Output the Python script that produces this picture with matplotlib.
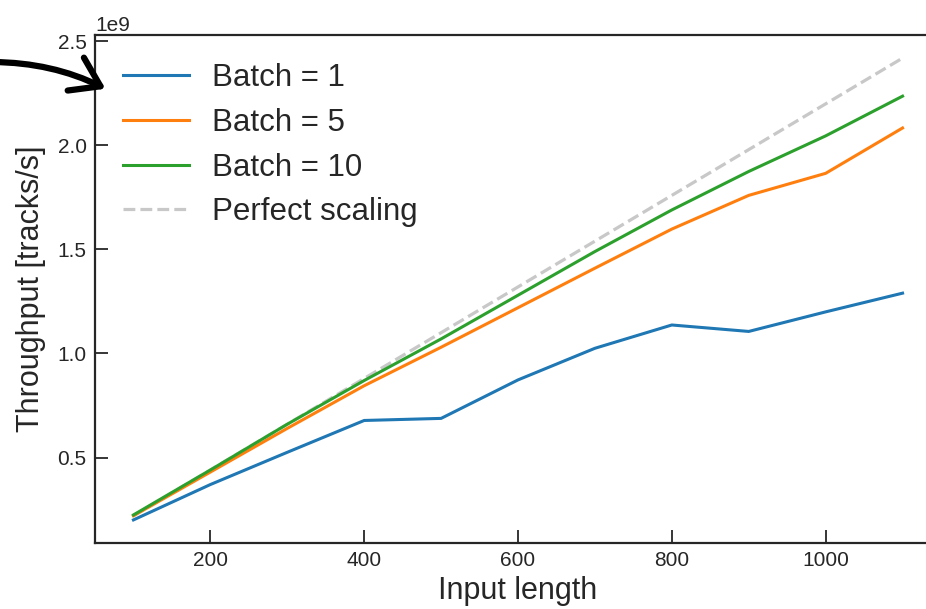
import matplotlib.pyplot as plt
import numpy as np

plt.rcParams['font.family'] = ['Liberation Sans', 'DejaVu Sans']
plt.rcParams['text.color'] = '#262626'
plt.rcParams['axes.labelcolor'] = '#262626'
plt.rcParams['xtick.color'] = '#262626'
plt.rcParams['ytick.color'] = '#262626'

# data
lengths = [100, 200, 300, 400, 500, 600, 700, 800, 900, 1000, 1100]
batch1 = [0.20, 0.37, 0.525, 0.678, 0.688, 0.873, 1.025, 1.137, 1.106, 1.20, 1.29]
batch5 = [0.22, 0.43, 0.64, 0.845, 1.03, 1.22, 1.41, 1.598, 1.76, 1.866, 2.084]
batch10 = [0.224, 0.44, 0.66, 0.87, 1.07, 1.28, 1.49, 1.69, 1.875, 2.046, 2.237]
perfect = [0.22 * n / 100 for n in lengths]

b1 = np.array(batch1) * 1e9
b5 = np.array(batch5) * 1e9
b10 = np.array(batch10) * 1e9
pf = np.array(perfect) * 1e9

fig = plt.figure(figsize=(9.26, 6.09), dpi=100)
ax = fig.add_axes([95 / 926, 1 - 543 / 609, (941 - 95) / 926, (543 - 35) / 609])

ax.plot(lengths, b1, color='#1f77b4', lw=2.2, label='Batch = 1')
ax.plot(lengths, b5, color='#ff7f0e', lw=2.2, label='Batch = 5')
ax.plot(lengths, b10, color='#2ca02c', lw=2.2, label='Batch = 10')
ax.plot(lengths, pf, color='#c8c8c8', lw=2.3, ls='--', label='Perfect scaling', zorder=1)

ax.set_xticks([200, 400, 600, 800, 1000])
ax.set_yticks([0.5e9, 1.0e9, 1.5e9, 2.0e9, 2.5e9])
ax.tick_params(direction='in', length=9.5, width=1.3, labelsize=15, pad=6)
ax.yaxis.get_offset_text().set_fontsize(15)
for s in ax.spines.values():
    s.set_linewidth(1.6)
    s.set_color('#262626')

ax.set_xlabel('Input length', fontsize=22, labelpad=4)
ax.set_ylabel('Throughput [tracks/s]', fontsize=22, labelpad=8)

ax.legend(loc='upper left', frameon=False, fontsize=22.5, handlelength=2.1,
          handletextpad=0.75, labelspacing=0.47)

# hand-drawn style arrow pointing at the legend
ax.annotate('', xy=(108 / 926, 1 - 90 / 609), xycoords='figure fraction',
            xytext=(-10 / 926, 1 - 62 / 609), textcoords='figure fraction',
            arrowprops=dict(arrowstyle='->,head_length=0.9,head_width=0.6',
                            color='black', lw=4.5, mutation_scale=22,
                            connectionstyle='arc3,rad=-0.12'),
            annotation_clip=False, zorder=10)

plt.savefig('out.png', dpi=100)
